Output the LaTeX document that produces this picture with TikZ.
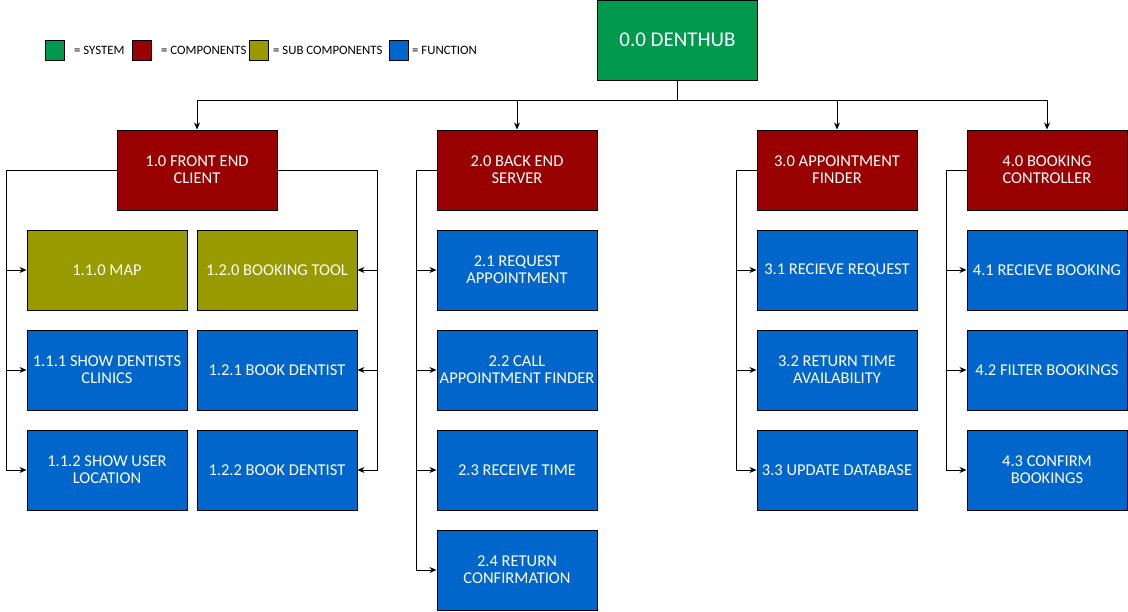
\documentclass[tikz,border=0pt]{standalone}
\usepackage{fontspec}
\setmainfont{Carlito}
\usetikzlibrary{positioning,arrows.meta}
\definecolor{sysgreen}{HTML}{00994D}
\definecolor{compred}{HTML}{990000}
\definecolor{subolive}{HTML}{999900}
\definecolor{funcblue}{HTML}{0066CC}
\tikzset{
  box/.style={draw=black,line width=1pt,rectangle,minimum width=160pt,minimum height=80pt,
    inner sep=1pt,text=white,align=center,font=\fontsize{16.5}{17}\selectfont},
  sysbox/.style={box,fill=sysgreen,font=\fontsize{21}{24}\selectfont},
  compbox/.style={box,fill=compred},
  subbox/.style={box,fill=subolive},
  funcbox/.style={box,fill=funcblue},
  keybox/.style={draw=black,line width=1pt,minimum width=19pt,minimum height=20pt,inner sep=0pt},
  keytext/.style={anchor=west,inner sep=0pt,font=\fontsize{12.8}{14}\selectfont},
  link/.style={line width=1pt,-{Stealth[length=7pt,width=6pt]}}
}
\begin{document}
\begin{tikzpicture}[x=1pt,y=-1pt]
        \useasboundingbox (0,0) rectangle (1128,611);
        %% Legend
        \node[keybox,fill=sysgreen] (ksys) at (54.5,50) {};
        \node[keytext] (tsys) at (74,50) {= SYSTEM};
        \node[keybox,fill=compred] (kcomp) at (141.5,50) {};
        \node[keytext] (tcomp) at (161,50) {= COMPONENTS};
        \node[keybox,fill=subolive] (ksub) at (258.5,50) {};
        \node[keytext] (tsub) at (273,50) {= SUB COMPONENTS};
        \node[keybox,fill=funcblue] (kfunc) at (398.5,50) {};
        \node[keytext] (tfunc) at (412,50) {= FUNCTION};
        %% System
        \node[sysbox] (hub) at (677.5,40) {0.0 DENTHUB};
        %% Components
        \node[compbox] (front) at (197,170) {1.0 FRONT END\\CLIENT};
        \node[compbox] (back) at (517,170) {2.0 BACK END\\SERVER};
        \node[compbox] (finder) at (837,170) {3.0 APPOINTMENT\\FINDER};
        \node[compbox] (control) at (1047,170) {4.0 BOOKING\\CONTROLLER};
        %% Front end
        \node[subbox] (map) at (107,270) {1.1.0 MAP};
        \node[subbox] (tool) at (277,270) {1.2.0 BOOKING TOOL};
        \node[funcbox] (clinics) at (107,370) {1.1.1 SHOW DENTISTS\\CLINICS};
        \node[funcbox] (userloc) at (107,470) {1.1.2 SHOW USER\\LOCATION};
        \node[funcbox] (bookone) at (277,370) {1.2.1 BOOK DENTIST};
        \node[funcbox] (booktwo) at (277,470) {1.2.2 BOOK DENTIST};
        %% Back end
        \node[funcbox] (request) at (517,270) {2.1 REQUEST\\APPOINTMENT};
        \node[funcbox] (callfind) at (517,370) {2.2 CALL\\APPOINTMENT FINDER};
        \node[funcbox] (rectime) at (517,470) {2.3 RECEIVE TIME};
        \node[funcbox] (retconf) at (517,570) {2.4 RETURN\\CONFIRMATION};
        %% Finder
        \node[funcbox] (recreq) at (837,270) {3.1 RECIEVE REQUEST};
        \node[funcbox] (rettime) at (837,370) {3.2 RETURN TIME\\AVAILABILITY};
        \node[funcbox] (update) at (837,470) {3.3 UPDATE DATABASE};
        %% Controller
        \node[funcbox] (recbook) at (1047,270) {4.1 RECIEVE BOOKING};
        \node[funcbox] (filter) at (1047,370) {4.2 FILTER BOOKINGS};
        \node[funcbox] (confirm) at (1047,470) {4.3 CONFIRM\\BOOKINGS};
        %% Links
        \foreach \c in {front,back,finder,control}
            \draw[link] (hub.south) -- ++(0,20) -| (\c.north);
        \foreach \f in {map,clinics,userloc}
            \draw[link] (front.west) -| ([xshift=-20pt]\f.west) -- (\f.west);
        \foreach \f in {tool,bookone,booktwo}
            \draw[link] (front.east) -| ([xshift=20pt]\f.east) -- (\f.east);
        \foreach \f in {request,callfind,rectime,retconf}
            \draw[link] (back.west) -| ([xshift=-20pt]\f.west) -- (\f.west);
        \foreach \f in {recreq,rettime,update}
            \draw[link] (finder.west) -| ([xshift=-20pt]\f.west) -- (\f.west);
        \foreach \f in {recbook,filter,confirm}
            \draw[link] (control.west) -| ([xshift=-20pt]\f.west) -- (\f.west);
    \end{tikzpicture}
\end{document}
